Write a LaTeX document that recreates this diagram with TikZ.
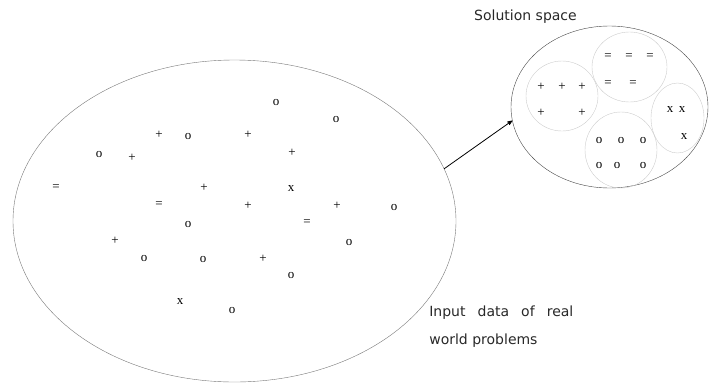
\documentclass[tikz,border=0pt]{standalone}
\usepackage{fontspec}
\setmainfont{Liberation Serif}
\newfontfamily\labelfont{DejaVu Sans}
\usetikzlibrary{arrows,shapes.geometric}
\usepackage{xcolor}
\definecolor{rimgray}{RGB}{120,120,120}
\definecolor{setgray}{RGB}{70,70,70}
\definecolor{groupgray}{RGB}{205,205,205}
\definecolor{inkgray}{RGB}{40,40,40}

\begin{document}
\begin{tikzpicture}[x=1pt,y=-1pt,>=stealth',semithick]
  \tikzstyle{every node}=[inner sep=0pt]
  \tikzstyle{space}=[ellipse,draw=rimgray,thin]
  \tikzstyle{group}=[ellipse,draw=groupgray,thin]
  \tikzstyle{item}=[font=\fontsize{13}{13}\selectfont,text=black]
  \tikzstyle{caption}=[font=\labelfont\fontsize{14}{28}\selectfont,text=inkgray]

  \useasboundingbox (0,0) rectangle (709,383);

  \node[space, minimum width=443pt, minimum height=322pt] (input) at (234.5,221) {};
  \node[space, draw=setgray, minimum width=197pt, minimum height=162pt] (solution) at (609.5,107) {};

  \node[group, minimum width=72pt, minimum height=70pt] (plusgrp) at (562,96) {};
  \node[group, minimum width=75pt, minimum height=70pt] (eqgrp)   at (629.5,67) {};
  \node[group, minimum width=53pt, minimum height=70pt] (xgrp)    at (677.5,118) {};
  \node[group, minimum width=72pt, minimum height=76pt] (ogrp)    at (621,150) {};

  \foreach \x/\y/\s [count=\i] in {276/102/o, 336/119/o, 159/135/+, 188/136/o, 248/135/+,
      99/154/o, 132/158/+, 292/153/+, 56/188/=, 204/188/+, 291/189/x, 159/205/=,
      248/206/+, 337/206/+, 394/207/o, 188/224/o, 307/223/=, 115/241/+, 349/242/o,
      144/258/o, 203/259/o, 263/259/+, 291/275/o, 180/302/x, 232/310/o}
    \node[item] (in\i) at (\x,\y) {\s};

  \foreach \x/\y/\s [count=\i] in {541/87/+, 562/87/+, 582/87/+, 541/113/+, 582/113/+,
      608/57/=, 629/57/=, 650/57/=, 608/84/=, 633/84/=,
      670/110/x, 682/110/x, 684/137/x,
      599/140/o, 621/140/o, 643/140/o, 599/165/o, 617/165/o, 643/165/o}
    \node[item] (out\i) at (\x,\y) {\s};

  \node[caption] (soltext) at (525.5,17) {Solution space};
  \node[caption, align=left, anchor=west] (intext) at (429,327)
    {\makebox[144pt][s]{Input data of real}\\world problems};

  \path[->,thick] (input.14) edge (solution.188);
\end{tikzpicture}
\end{document}
